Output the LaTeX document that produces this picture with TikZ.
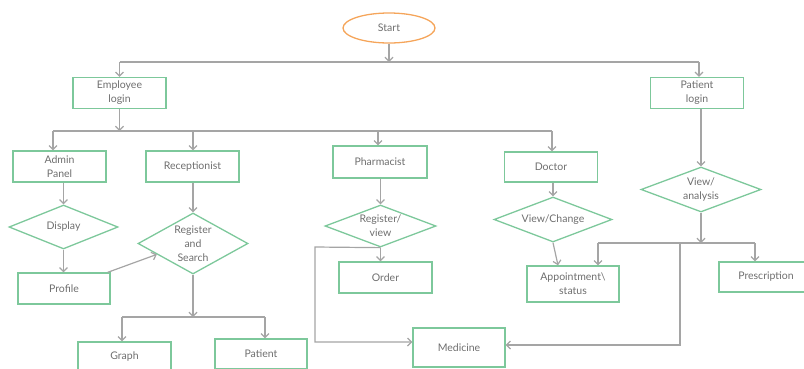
\documentclass[tikz,border=0pt]{standalone}
\usepackage{fontspec}
\setmainfont{Lato}
\usetikzlibrary{shapes.geometric,arrows.meta,calc}
\definecolor{linegray}{RGB}{165,165,165}
\definecolor{boxgreen}{RGB}{125,200,155}
\definecolor{startorange}{RGB}{245,165,90}
\definecolor{textgray}{RGB}{110,110,110}
\tikzset{
  base/.style={inner sep=0pt, font=\fontsize{10.5}{14}\selectfont, text=textgray, align=center},
  box/.style={base, draw=boxgreen, line width=1.3pt, rectangle, minimum width=93pt, minimum height=31pt},
  dia/.style={draw=boxgreen, line width=1.3pt, diamond, inner sep=0pt},
  lbl/.style={base},
  term/.style={base, draw=startorange, line width=1.3pt, ellipse, minimum width=92pt, minimum height=30pt},
  conn/.style={draw=linegray, line width=1.2pt},
  arr/.style={conn, -{Straight Barb[length=4pt,width=8pt]}},
}
\begin{document}
\begin{tikzpicture}[x=1pt,y=-1pt]
\useasboundingbox (0,0) rectangle (804,368);
\clip (0,0) rectangle (804,368);
% nodes
\node[term] (start) at (389,28) {Start};
\node[box] (emp) at (119.5,93) {Employee\\login};
\node[box] (pat) at (697,93) {Patient\\login};
\node[box] (admin) at (59.5,166.5) {Admin\\Panel};
\node[box] (recep) at (192.5,166.5) {Receptionist};
\node[box, minimum width=94pt, minimum height=32pt] (pharm) at (380,162) {Pharmacist};
\node[box, minimum height=30pt] (doctor) at (551,167) {Doctor};
\node[dia, minimum width=109pt, minimum height=44pt] (display) at (63.5,227) {};
\node[lbl] (displayT) at (display) {Display};
\node[dia, minimum width=110pt, minimum height=61pt] (regsearch) at (193,243.5) {};
\node[lbl] (regsearchT) at (regsearch) {Register\\and\\Search};
\node[dia, minimum width=111pt, minimum height=42pt] (regview) at (380.5,226) {};
\node[lbl] (regviewT) at (regview) {Register/\\view};
\node[dia, minimum width=118pt, minimum height=45pt] (viewchange) at (553,219.5) {};
\node[lbl] (viewchangeT) at (viewchange) {View/Change};
\node[dia, minimum width=120pt, minimum height=45pt] (viewanalysis) at (701,189.5) {};
\node[lbl] (viewanalysisT) at (viewanalysis) {View/\\analysis};
\node[box, minimum width=92pt] (profile) at (64,288.5) {Profile};
\node[box] (order) at (385.5,277.5) {Order};
\node[box, minimum width=92pt, minimum height=36pt] (appt) at (573,284) {Appointment\textbackslash\\status};
\node[box, minimum width=94pt, minimum height=30pt] (presc) at (766,277) {Prescription};
\node[box, minimum width=92pt, minimum height=39pt] (medicine) at (459,347.5) {Medicine};
\node[box, minimum height=30pt] (graph) at (124.5,357) {Graph};
\node[box, minimum width=92pt, minimum height=30pt] (patient) at (261,354) {Patient};
% junction coordinates
\coordinate (b1) at (389,62);
\coordinate (b1l) at (119.5,62);
\coordinate (b1r) at (699,62);
\coordinate (b2) at (119.5,131);
\coordinate (b2a) at (53,131);
\coordinate (b2b) at (193,131);
\coordinate (b2c) at (378,131);
\coordinate (b2d) at (552,131);
\coordinate (b3) at (193,317);
\coordinate (b3l) at (122,317);
\coordinate (b3r) at (265,317);
\coordinate (b4) at (701,243);
\coordinate (b4l) at (598,243);
\coordinate (b4r) at (755,243);
\coordinate (b4m) at (680,243);
\coordinate (m1) at (315,247);
\coordinate (m2) at (315,342);
\coordinate (m3) at (680,345);
% connectors
\draw[arr] (start.south) -- (b1);
\draw[conn] (b1l) -- (b1r);
\draw[arr] (b1l) -- (emp.north);
\draw[arr] (b1r) -- (b1r |- pat.north);
\draw[arr] (emp.south) -- (b2);
\draw[conn] (b2a) -- (b2d);
\draw[arr] (b2a) -- (b2a |- admin.north);
\draw[arr] (b2b) -- (b2b |- recep.north);
\draw[arr] (b2c) -- (b2c |- pharm.north);
\draw[arr] (b2d) -- (b2d |- doctor.north);
\draw[arr] (display.north |- admin.south) -- (display.north);
\draw[arr] (display.south) -- (display.south |- profile.north);
\draw[arr] (recep.south -| regsearch.north) -- (regsearch.north);
\draw[arr] ([xshift=-3pt]profile.north east) -- ($(regsearch.west)!0.35!(regsearch.south)$);
\draw[arr] (regsearch.south) -- (b3);
\draw[conn] (b3l) -- (b3r);
\draw[arr] (b3l) -- (b3l |- graph.north);
\draw[arr] (b3r) -- (b3r |- patient.north);
\draw[arr] (regview.north |- pharm.south) -- (regview.north);
\draw[arr] (regview.south) -- (regview.south |- order.north);
\draw[arr] (regview.south) -- (m1) -- (m2) -- (m2 -| medicine.west);
\draw[arr] (viewchange.north |- doctor.south) -- (viewchange.north);
\draw[arr] (viewchange.south) -- ([xshift=-15pt]appt.north);
\draw[arr] (viewanalysis.north |- pat.south) -- (viewanalysis.north);
\draw[arr] (viewanalysis.south) -- (b4);
\draw[conn] (b4l) -- (b4r);
\draw[arr] (b4l) -- (b4l |- appt.north);
\draw[arr] (b4r) -- (b4r |- presc.north);
\draw[arr] (b4m) -- (m3) -- (m3 -| medicine.east);
\end{tikzpicture}
\end{document}
